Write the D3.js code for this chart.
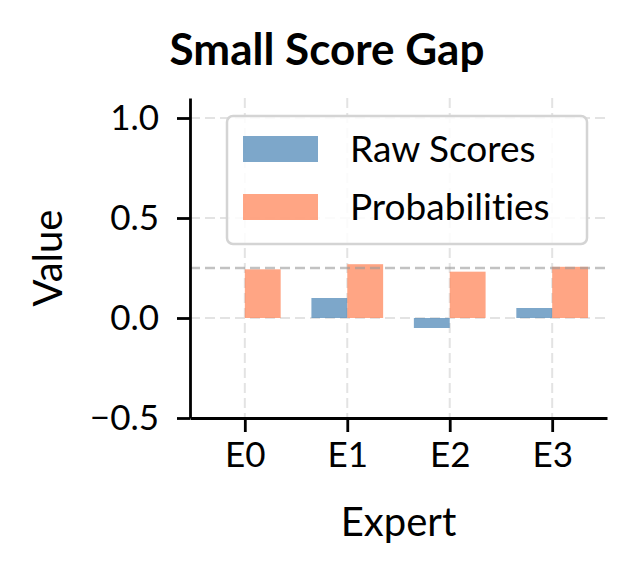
<!DOCTYPE html>
<html>
<head>
<meta charset="utf-8">
<script src="https://cdn.jsdelivr.net/npm/d3@7"></script>
<style>
    body { margin: 0; background: #fff; }
    text { font-family: Lato, "Noto Sans", sans-serif; font-variant-ligatures: none; }
</style>
</head>
<body>
<svg id="chart"></svg>
<script>
const experts = ["E0", "E1", "E2", "E3"];
const rawScores = [0.0, 0.10, -0.05, 0.05];
const probabilities = [0.2435, 0.269, 0.2316, 0.256];
const yTicks = [-0.5, 0.0, 0.5, 1.0];
const uniformLevel = 0.25;
const seriesNames = ["Raw Scores", "Probabilities"];

const width = 634, height = 574;
const margin = {top: 98, right: 27, bottom: 156, left: 190};
const barWidth = 0.35;

const svg = d3.select("#chart")
    .attr("width", width)
    .attr("height", height);

const innerW = width - margin.left - margin.right;
const innerH = height - margin.top - margin.bottom;

const g = svg.append("g")
    .attr("transform", `translate(${margin.left},${margin.top})`);

// categories on a linear scale so bars can sit either side of the tick
const x = d3.scaleLinear().domain([-0.535, 3.535]).range([0, innerW]);
const y = d3.scaleLinear().domain([-0.5, 1.1]).range([innerH, 0]);

// grid
g.append("g")
    .selectAll("line")
    .data(experts)
    .enter().append("line")
    .attr("x1", (d, i) => x(i)).attr("x2", (d, i) => x(i))
    .attr("y1", 0).attr("y2", innerH)
    .attr("stroke", "#e3e3e3").attr("stroke-width", 2)
    .attr("stroke-dasharray", "10,5");

g.append("g")
    .selectAll("line")
    .data(yTicks)
    .enter().append("line")
    .attr("x1", 0).attr("x2", innerW)
    .attr("y1", d => y(d)).attr("y2", d => y(d))
    .attr("stroke", "#e3e3e3").attr("stroke-width", 2)
    .attr("stroke-dasharray", "10,5");

// bars
g.selectAll(".raw")
    .data(rawScores)
    .enter().append("rect")
    .attr("class", "raw")
    .attr("x", (d, i) => x(i - barWidth))
    .attr("y", d => y(Math.max(0, d)))
    .attr("width", x(barWidth) - x(0))
    .attr("height", d => Math.abs(y(d) - y(0)))
    .attr("fill", "steelblue")
    .attr("fill-opacity", 0.7);

g.selectAll(".prob")
    .data(probabilities)
    .enter().append("rect")
    .attr("class", "prob")
    .attr("x", (d, i) => x(i))
    .attr("y", d => y(d))
    .attr("width", x(barWidth) - x(0))
    .attr("height", d => y(0) - y(d))
    .attr("fill", "coral")
    .attr("fill-opacity", 0.7);

// uniform reference line
g.append("line")
    .attr("x1", 0).attr("x2", innerW)
    .attr("y1", y(uniformLevel)).attr("y2", y(uniformLevel))
    .attr("stroke", "#9a9a9a").attr("stroke-opacity", 0.6)
    .attr("stroke-width", 2.5)
    .attr("stroke-dasharray", "10,5");

// axes
const xAxis = g.append("g")
    .attr("transform", `translate(0,${innerH})`)
    .call(d3.axisBottom(x)
        .tickValues(d3.range(experts.length))
        .tickFormat(i => experts[i])
        .tickSize(14).tickPadding(10).tickSizeOuter(0));

const yAxis = g.append("g")
    .call(d3.axisLeft(y)
        .tickValues(yTicks)
        .tickFormat(d => d3.format(".1f")(d).replace("-", "\u2212"))
        .tickSize(13).tickPadding(18).tickSizeOuter(0));

[xAxis, yAxis].forEach(a => {
    a.selectAll("path, line").attr("stroke", "#000").attr("stroke-width", 2.8);
    a.selectAll("text").attr("fill", "#000").style("font-size", "35px");
});

// labels
svg.append("text")
    .attr("x", 327).attr("y", 65)
    .attr("text-anchor", "middle")
    .style("font-size", "44px").style("font-weight", "bold")
    .text("Small Score Gap");

svg.append("text")
    .attr("x", margin.left + innerW / 2).attr("y", 536)
    .attr("text-anchor", "middle")
    .style("font-size", "40px")
    .text("Expert");

svg.append("text")
    .attr("transform", `translate(62,${margin.top + innerH / 2}) rotate(-90)`)
    .attr("text-anchor", "middle")
    .style("font-size", "40px")
    .text("Value");

// legend
const legend = svg.append("g").attr("transform", "translate(227,116)");
legend.append("rect")
    .attr("width", 360).attr("height", 128)
    .attr("rx", 6)
    .attr("fill", "#fff").attr("fill-opacity", 0.85)
    .attr("stroke", "#d4d4d4").attr("stroke-width", 2.5);

const legendColors = ["steelblue", "coral"];
seriesNames.forEach((name, i) => {
    const row = legend.append("g").attr("transform", `translate(16,${20 + i * 58})`);
    row.append("rect")
        .attr("width", 75).attr("height", 26)
        .attr("fill", legendColors[i]).attr("fill-opacity", 0.7);
    row.append("text")
        .attr("x", 107).attr("y", 26)
        .style("font-size", "37px")
        .text(name);
});
</script>
</body>
</html>
